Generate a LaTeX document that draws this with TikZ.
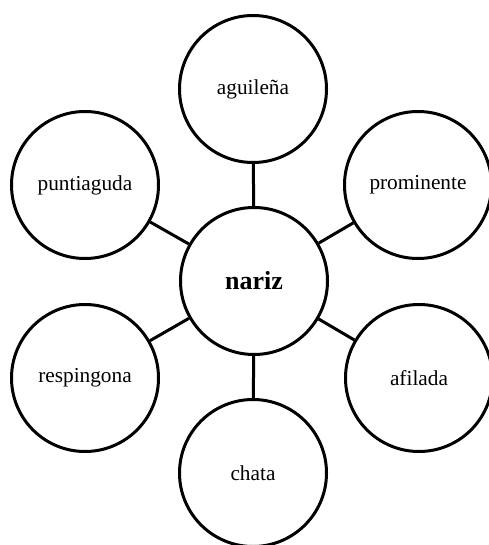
\documentclass[tikz,border=0pt]{standalone}
\usepackage{fontspec}
\setmainfont{Liberation Serif}
\begin{document}
\begin{tikzpicture}[x=1pt,y=-1pt,
  bubble/.style={circle,draw=black,line width=3pt,minimum size=147pt,inner sep=0pt,font=\fontsize{21.3}{24}\selectfont},
  hub/.style={bubble,font=\fontsize{26}{30}\selectfont\bfseries},
  link/.style={draw=black,line width=3pt}]
\useasboundingbox (0,0) rectangle (488,545);
\node[hub] (n) at (254,281) {nariz};
\node[bubble] (a) at (253,89) {aguileña};
\node[bubble] (pr) at (418,185) {prominente};
\node[bubble] (af) at (419,378) {afilada};
\node[bubble] (c) at (253,473) {chata};
\node[bubble] (r) at (85,378) {respingona};
\node[bubble] (pu) at (85,185) {puntiaguda};
\foreach \t in {a,pr,af,c,r,pu} \draw[link] (n) -- (\t);
\end{tikzpicture}
\end{document}
